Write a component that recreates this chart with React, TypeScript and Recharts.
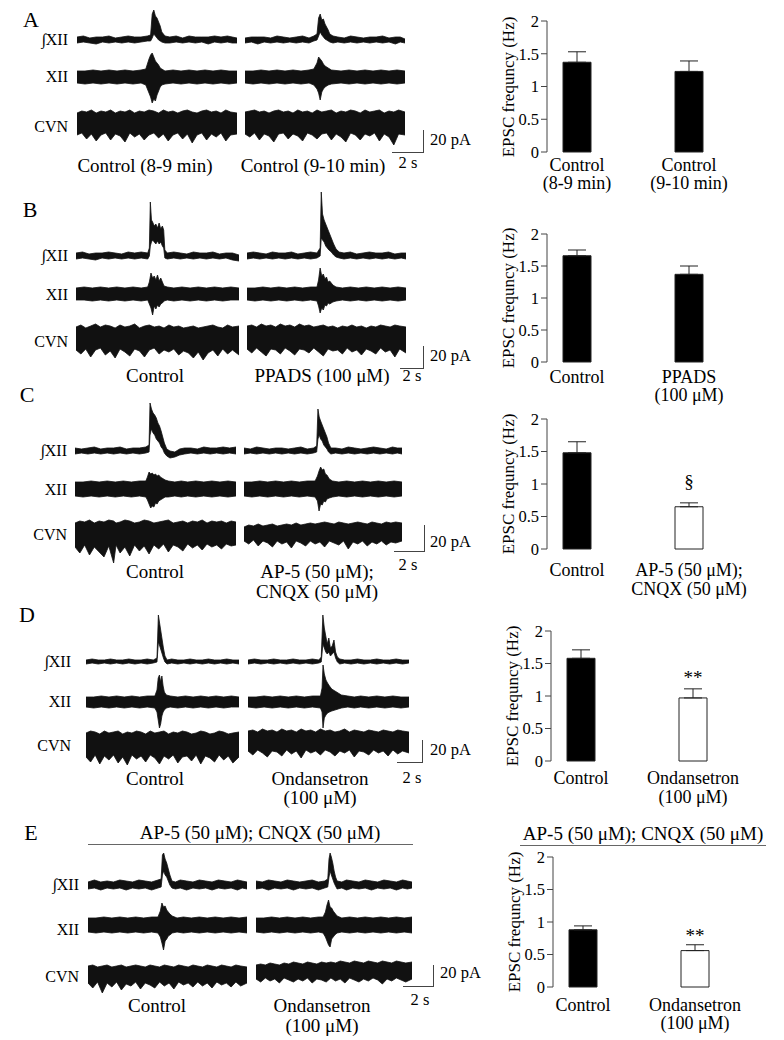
import React from 'react'
import { ComposedChart, Area, BarChart, Bar, Cell, XAxis, YAxis, ErrorBar, LabelList } from 'recharts'

const FONT = '"Liberation Serif", "Times New Roman", Times, serif'

// ---- bar data (EPSC frequency, Hz) ----
const Y_TICKS = [0, 0.5, 1, 1.5, 2]
const A_LABELS = [['Control', '(8-9 min)'], ['Control', '(9-10 min)']]
const A_MEAN = [1.37, 1.23]
const A_SEM = [0.16, 0.16]
const B_LABELS = [['Control'], ['PPADS', '(100 μM)']]
const B_MEAN = [1.66, 1.37]
const B_SEM = [0.09, 0.13]
const C_LABELS = [['Control'], ['AP-5 (50 μM);', 'CNQX (50 μM)']]
const C_MEAN = [1.48, 0.65]
const C_SEM = [0.17, 0.06]
const C_MARKS = ['', '§']
const D_LABELS = [['Control'], ['Ondansetron', '(100 μM)']]
const D_MEAN = [1.58, 0.97]
const D_SEM = [0.13, 0.14]
const D_MARKS = ['', '**']
const E_LABELS = [['Control'], ['Ondansetron', '(100 μM)']]
const E_MEAN = [0.88, 0.56]
const E_SEM = [0.06, 0.09]
const E_MARKS = ['', '**']
const FILLS_CTRL = ['#000', '#000']
const FILLS_DRUG = ['#000', '#fff']

// ---- trace envelopes: [time 0-100, low, high], amplitude in px ----
const A_INT_1 = [[0,-3,3],[4,-2,4],[8,-3,2],[12,-4,3],[16,-2,3],[20,-3,4],[24,-2,2],[28,-3,3],[32,-2,4],[36,-3,3],[40,-2,3],[44,-1,4],[46,-1,5],[47,2,26],[48,6,30],[49,4,24],[50,2,22],[51,0,18],[52,-1,14],[53,-2,8],[55,-3,4],[58,-3,3],[62,-2,4],[66,-3,2],[70,-2,4],[74,-3,3],[78,-2,3],[82,-4,3],[86,-2,4],[90,-3,3],[94,-2,4],[97,-3,3],[100,-3,2]]
const A_INT_2 = [[0,-3,2],[4,-2,3],[8,-4,3],[12,-2,3],[16,-3,2],[20,-2,4],[24,-3,3],[28,-2,2],[32,-3,3],[36,-2,4],[40,-3,2],[43,-1,4],[45,0,6],[46,4,22],[47,8,26],[48,5,20],[49,3,21],[50,1,16],[51,0,13],[52,-1,10],[53,-2,6],[55,-3,4],[58,-2,3],[62,-3,2],[66,-2,4],[70,-3,3],[74,-2,2],[78,-3,3],[82,-2,3],[86,-3,4],[90,-2,2],[94,-4,3],[97,-2,3],[100,-3,1]]
const A_XII_1 = [[0,-6,6],[5,-7,6],[10,-6,7],[15,-7,6],[20,-6,7],[25,-7,6],[30,-6,7],[35,-7,6],[40,-6,7],[43,-8,8],[44,-12,13],[45,-16,18],[46,-20,22],[47,-26,24],[48,-22,20],[49,-24,16],[50,-18,14],[51,-14,12],[52,-10,9],[53,-8,8],[55,-7,6],[60,-6,7],[65,-7,6],[70,-6,7],[75,-7,6],[80,-6,7],[85,-7,6],[90,-6,7],[95,-7,6],[100,-6,6]]
const A_XII_2 = [[0,-6,6],[5,-7,6],[10,-6,7],[15,-7,6],[20,-6,7],[25,-7,6],[30,-6,7],[35,-7,6],[40,-6,7],[43,-8,8],[45,-12,14],[46,-16,20],[47,-23,18],[48,-15,16],[49,-12,13],[50,-10,11],[52,-8,9],[54,-7,7],[60,-6,6],[65,-7,7],[70,-6,6],[75,-7,7],[80,-6,6],[85,-7,7],[90,-6,6],[95,-7,7],[100,-6,6]]
const A_CVN_1 = [[0,-12,10],[3,-10,12],[6,-16,11],[9,-11,13],[12,-18,10],[15,-12,12],[18,-10,11],[21,-17,13],[24,-11,10],[27,-13,12],[30,-19,11],[33,-10,13],[36,-14,10],[39,-11,12],[42,-17,11],[45,-12,13],[48,-10,12],[51,-15,10],[54,-11,13],[57,-18,11],[60,-12,12],[63,-10,10],[66,-16,12],[69,-11,13],[72,-20,11],[75,-12,10],[78,-10,12],[81,-17,13],[84,-11,11],[87,-14,12],[90,-10,10],[93,-18,13],[96,-12,11],[100,-11,10]]
const A_CVN_2 = [[0,-11,11],[3,-14,12],[6,-10,13],[9,-17,11],[12,-11,12],[15,-13,10],[18,-19,12],[21,-11,13],[24,-10,11],[27,-16,12],[30,-11,10],[33,-13,13],[36,-18,11],[39,-10,12],[42,-12,10],[45,-16,13],[48,-11,11],[51,-10,12],[54,-17,13],[57,-11,10],[60,-14,12],[63,-19,11],[66,-10,13],[69,-12,12],[72,-17,10],[75,-11,13],[78,-13,11],[81,-10,12],[84,-18,13],[87,-11,10],[90,-14,12],[93,-22,11],[96,-11,13],[100,-12,11]]

const B_INT_1 = [[0,-3,3],[4,-2,4],[8,-3,2],[12,-4,3],[16,-2,3],[20,-3,4],[24,-2,3],[28,-3,2],[32,-2,4],[36,-3,3],[40,-2,4],[44,-3,3],[45,0,8],[45.6,10,54],[46.3,14,36],[47,16,34],[48,14,30],[49,12,32],[50,15,28],[51,12,33],[52,14,27],[53,10,30],[53.8,8,26],[54.5,-2,6],[56,-3,3],[60,-2,4],[64,-3,3],[68,-2,2],[72,-3,4],[76,-2,3],[80,-3,3],[84,-2,4],[88,-3,2],[92,-2,3],[96,-4,3],[100,-5,1]]
const B_INT_2 = [[0,-3,3],[4,-2,4],[8,-3,3],[12,-2,2],[16,-3,4],[20,-2,3],[24,-3,3],[28,-2,4],[32,-3,2],[36,-2,3],[40,-3,4],[44,-2,3],[46,0,8],[46.7,18,64],[47.5,16,42],[48.5,14,36],[49.5,10,32],[50.5,8,28],[51.5,6,24],[53,4,18],[54.5,1,12],[56,-1,7],[58,-2,4],[61,-3,3],[65,-2,4],[69,-3,2],[73,-2,3],[77,-3,4],[81,-2,3],[85,-3,3],[89,-2,4],[93,-3,2],[97,-2,3],[100,-3,3]]
const B_XII_1 = [[0,-6,6],[5,-6,7],[10,-7,6],[15,-6,7],[20,-7,6],[25,-6,7],[30,-7,6],[35,-6,7],[40,-7,6],[44,-6,7],[45,-10,12],[46,-14,21],[47,-21,16],[48,-12,18],[49,-15,14],[50,-11,19],[51,-13,13],[52,-10,16],[53,-9,12],[54,-7,8],[56,-6,7],[60,-7,6],[65,-6,7],[70,-7,6],[75,-6,7],[80,-7,6],[85,-6,7],[90,-7,6],[95,-6,7],[100,-6,6]]
const B_XII_2 = [[0,-6,6],[5,-7,6],[10,-6,7],[15,-7,6],[20,-6,7],[25,-7,6],[30,-6,7],[35,-7,6],[40,-6,7],[44,-7,7],[45,-12,14],[46,-19,26],[47,-14,18],[48,-16,20],[49,-11,15],[50,-12,17],[51,-9,12],[52,-10,13],[54,-8,9],[56,-7,7],[60,-6,6],[65,-7,7],[70,-6,6],[75,-7,7],[80,-6,6],[85,-7,7],[90,-6,6],[95,-7,7],[100,-6,6]]
const B_CVN_1 = [[0,-12,11],[3,-16,13],[6,-11,10],[9,-19,12],[12,-12,14],[15,-10,11],[18,-17,13],[21,-13,12],[24,-20,10],[27,-11,13],[30,-14,11],[33,-18,12],[36,-11,14],[39,-13,10],[42,-19,12],[45,-12,13],[48,-10,11],[51,-16,12],[54,-12,10],[57,-14,13],[60,-11,11],[63,-17,12],[66,-13,10],[69,-15,11],[72,-20,12],[75,-14,10],[78,-22,11],[81,-15,12],[84,-12,13],[87,-18,11],[90,-11,10],[93,-16,13],[96,-12,11],[100,-17,12]]
const B_CVN_2 = [[0,-11,12],[3,-15,13],[6,-10,11],[9,-14,14],[12,-18,12],[15,-11,13],[18,-12,11],[21,-16,14],[24,-10,12],[27,-13,13],[30,-17,11],[33,-11,14],[36,-12,12],[39,-15,13],[42,-10,11],[45,-14,12],[48,-18,13],[51,-11,11],[54,-13,12],[57,-12,10],[60,-16,12],[63,-10,11],[66,-14,13],[69,-12,11],[72,-17,12],[75,-11,10],[78,-13,12],[81,-16,11],[84,-10,13],[87,-14,12],[90,-12,11],[93,-19,13],[96,-11,12],[100,-15,11]]

const C_INT_1 = [[0,-3,3],[4,-2,2],[8,-3,3],[12,-2,4],[16,-3,2],[20,-2,3],[24,-3,3],[28,-2,4],[32,-3,2],[36,-2,3],[40,-3,3],[44,-2,4],[46,-1,6],[46.6,16,48],[47.5,22,42],[48.5,18,38],[49.5,16,36],[50.5,12,33],[51.5,10,28],[52.5,8,25],[53.5,4,20],[54.5,2,14],[55.5,-2,8],[57,-5,2],[59,-7,0],[62,-6,-1],[65,-4,2],[68,-3,3],[72,-2,3],[76,-3,2],[80,-2,4],[84,-3,3],[88,-2,3],[92,-3,4],[96,-2,3],[100,-3,4]]
const C_INT_2 = [[0,-3,3],[4,-2,2],[8,-3,4],[12,-2,3],[16,-3,2],[20,-2,3],[24,-3,3],[28,-2,2],[32,-3,3],[36,-2,4],[40,-3,2],[44,-2,3],[46,-1,5],[46.8,12,42],[47.6,16,34],[48.5,12,30],[49.5,10,26],[50.5,6,22],[51.5,4,18],[52.5,2,14],[53.5,-1,8],[55,-3,3],[58,-2,3],[62,-3,2],[66,-2,4],[70,-3,3],[74,-2,2],[78,-3,3],[82,-2,4],[86,-3,3],[90,-2,2],[94,-3,4],[97,-2,3],[100,-3,3]]
const C_XII_1 = [[0,-7,7],[5,-8,7],[10,-7,8],[15,-8,7],[20,-7,8],[25,-8,7],[30,-7,8],[35,-8,7],[40,-7,8],[44,-8,8],[45,-11,12],[46,-15,17],[47,-19,15],[48,-17,16],[49,-18,14],[50,-14,15],[51,-15,13],[52,-12,14],[53,-11,12],[54,-10,11],[56,-8,9],[58,-8,8],[62,-7,7],[66,-8,8],[70,-7,7],[75,-8,8],[80,-7,7],[85,-8,8],[90,-7,7],[95,-8,8],[100,-7,7]]
const C_XII_2 = [[0,-7,7],[5,-8,7],[10,-7,8],[15,-8,7],[20,-7,8],[25,-8,7],[30,-7,8],[35,-8,7],[40,-7,8],[45,-8,8],[46.5,-12,13],[47.5,-22,18],[48.5,-15,22],[49.5,-16,19],[50.5,-12,20],[51.5,-13,15],[52.5,-10,14],[54,-9,10],[56,-8,8],[60,-7,7],[65,-8,8],[70,-7,7],[75,-8,8],[80,-7,7],[85,-8,8],[90,-7,7],[95,-8,8],[100,-7,7]]
const C_CVN_1 = [[0,-14,10],[3,-20,12],[6,-12,11],[9,-22,13],[12,-14,10],[15,-19,12],[18,-24,11],[21,-13,13],[24,-30,12],[25.5,-12,10],[28,-20,11],[31,-14,13],[34,-23,12],[37,-12,10],[40,-18,11],[43,-13,13],[46,-21,12],[49,-12,10],[52,-16,11],[55,-11,12],[58,-19,13],[61,-12,10],[64,-14,11],[67,-18,12],[70,-11,10],[73,-15,12],[76,-12,11],[79,-17,13],[82,-11,10],[85,-14,12],[88,-12,11],[91,-16,12],[94,-11,10],[97,-13,12],[100,-12,11]]
const C_CVN_2 = [[0,-8,6],[3,-11,8],[6,-7,7],[9,-13,9],[12,-8,7],[15,-10,8],[18,-14,9],[21,-8,7],[24,-11,8],[27,-9,9],[30,-15,8],[33,-8,10],[36,-10,8],[39,-13,9],[42,-8,10],[45,-11,9],[48,-9,10],[51,-14,11],[54,-8,10],[57,-10,9],[60,-12,11],[63,-8,10],[66,-16,9],[69,-9,10],[72,-11,11],[75,-8,10],[78,-13,9],[81,-9,11],[84,-11,10],[87,-8,9],[90,-12,11],[93,-9,10],[96,-10,11],[100,-8,10]]

const D_INT_1 = [[0,-2,2],[4,-1,3],[8,-2,2],[12,-1,2],[16,-2,3],[20,-1,2],[24,-2,2],[28,-1,3],[32,-2,2],[36,-1,2],[40,-2,3],[44,-1,2],[46.4,0,4],[47.3,20,47],[48.2,16,38],[49,12,30],[49.8,8,22],[50.6,4,14],[51.6,0,6],[53,-2,2],[56,-1,3],[60,-2,2],[64,-1,2],[68,-2,3],[72,-1,2],[76,-2,2],[80,-1,3],[84,-2,2],[88,-1,2],[92,-2,3],[96,-1,2],[100,-2,2]]
const D_INT_2 = [[0,-2,2],[4,-1,3],[8,-2,2],[12,-1,2],[16,-2,3],[20,-1,2],[24,-2,2],[28,-1,3],[32,-2,2],[36,-1,2],[40,-2,3],[44,-1,2],[45.5,0,5],[46.5,18,47],[47.4,14,34],[48.3,10,26],[49.2,8,18],[50.2,10,24],[51.2,6,14],[52.3,8,16],[53.4,10,22],[54.4,4,10],[55.5,0,5],[57,-2,3],[60,-1,2],[64,-2,2],[68,-1,3],[72,-2,2],[76,-1,2],[80,-2,3],[84,-1,2],[88,-2,2],[92,-1,3],[96,-2,2],[100,-1,2]]
const D_XII_1 = [[0,-5,5],[5,-6,5],[10,-5,6],[15,-6,5],[20,-5,6],[25,-6,5],[30,-5,6],[35,-6,5],[40,-5,6],[45,-6,6],[46.4,-10,12],[47.2,-18,24],[48,-26,27],[48.8,-22,20],[49.6,-14,26],[50.4,-10,16],[51.2,-8,10],[52.5,-6,7],[55,-5,6],[60,-6,5],[65,-5,6],[70,-6,5],[75,-5,6],[80,-6,5],[85,-5,6],[90,-6,5],[95,-5,6],[100,-5,5]]
const D_XII_2 = [[0,-5,5],[5,-6,5],[10,-5,6],[15,-6,5],[20,-5,6],[25,-6,5],[30,-5,6],[35,-6,5],[40,-5,6],[45,-6,6],[46,-10,14],[46.6,-26,37],[47.4,-16,28],[48.4,-13,22],[49.4,-11,19],[50.6,-10,16],[52,-9,13],[54,-8,11],[56,-7,9],[58,-6,7],[62,-5,6],[66,-6,5],[70,-5,6],[75,-6,5],[80,-5,6],[85,-6,5],[90,-5,6],[95,-6,5],[100,-5,5]]
const D_CVN_1 = [[0,-13,11],[3,-18,13],[6,-11,12],[9,-20,10],[12,-12,13],[15,-16,11],[18,-11,12],[21,-19,13],[24,-13,10],[27,-21,12],[30,-11,11],[33,-15,13],[36,-12,12],[39,-18,10],[42,-11,13],[45,-14,11],[48,-20,12],[51,-12,13],[54,-15,10],[57,-11,12],[60,-19,11],[63,-13,13],[66,-12,12],[69,-17,10],[72,-11,11],[75,-20,13],[78,-12,12],[81,-14,10],[84,-18,11],[87,-11,13],[90,-16,12],[93,-12,10],[96,-19,11],[100,-13,12]]
const D_CVN_2 = [[0,-7,13],[3,-11,14],[6,-6,12],[9,-9,15],[12,-13,13],[15,-7,14],[18,-8,12],[21,-12,15],[24,-6,13],[27,-10,14],[30,-7,12],[33,-14,15],[36,-6,13],[39,-9,14],[42,-7,12],[45,-11,15],[48,-6,13],[51,-8,14],[54,-12,12],[57,-7,13],[60,-9,15],[63,-6,12],[66,-13,14],[69,-7,13],[72,-8,12],[75,-11,14],[78,-6,13],[81,-9,12],[84,-7,14],[87,-12,13],[90,-6,12],[93,-10,14],[96,-7,13],[100,-9,12]]

const E_INT_1 = [[0,-4,3],[4,-3,5],[8,-5,3],[12,-3,4],[16,-4,3],[20,-3,5],[24,-5,4],[28,-3,3],[32,-4,5],[36,-3,4],[40,-5,3],[44,-3,5],[46,-2,6],[46.8,10,30],[47.6,14,32],[48.5,10,26],[49.5,8,22],[50.5,4,16],[51.5,0,10],[52.8,-3,4],[55,-4,3],[58,-3,5],[62,-5,4],[66,-3,3],[70,-4,5],[74,-3,4],[78,-5,3],[82,-3,5],[86,-4,4],[90,-3,3],[94,-5,5],[97,-3,4],[100,-4,3]]
const E_INT_2 = [[0,-4,4],[4,-3,3],[8,-5,5],[12,-3,4],[16,-4,3],[20,-3,5],[24,-5,4],[28,-3,3],[32,-4,4],[36,-3,5],[40,-5,3],[44,-3,4],[46,-2,6],[46.8,8,26],[47.5,14,32],[48.3,10,28],[49.2,6,22],[50.1,2,14],[51,-1,8],[52,-4,4],[55,-3,3],[58,-5,5],[62,-3,4],[66,-4,3],[70,-3,5],[74,-5,4],[78,-3,3],[82,-4,5],[86,-3,4],[90,-5,3],[94,-3,5],[97,-4,4],[100,-3,3]]
const E_XII_1 = [[0,-7,7],[5,-8,7],[10,-7,8],[15,-8,7],[20,-7,8],[25,-8,7],[30,-7,8],[35,-8,7],[40,-7,8],[44,-8,8],[45.5,-12,14],[46.5,-18,22],[47.5,-25,18],[48.5,-16,19],[49.5,-14,15],[50.5,-11,13],[51.5,-10,11],[53,-8,9],[56,-7,7],[60,-8,8],[65,-7,7],[70,-8,8],[75,-7,7],[80,-8,8],[85,-7,7],[90,-8,8],[95,-7,7],[100,-8,8]]
const E_XII_2 = [[0,-7,7],[5,-8,7],[10,-7,8],[15,-8,7],[20,-7,8],[25,-8,7],[30,-7,8],[35,-8,7],[40,-7,8],[43,-8,8],[44.5,-12,13],[45.5,-16,20],[46.5,-20,25],[47.5,-22,18],[48.5,-14,17],[49.5,-12,14],[50.5,-10,12],[52,-8,9],[55,-7,7],[60,-8,8],[65,-7,7],[70,-8,8],[75,-7,7],[80,-8,8],[85,-7,7],[90,-8,8],[95,-7,7],[100,-8,8]]
const E_CVN_1 = [[0,-9,8],[3,-14,9],[6,-8,7],[9,-19,8],[12,-9,9],[15,-13,7],[18,-8,8],[21,-16,9],[24,-10,7],[27,-12,8],[30,-8,9],[33,-15,8],[36,-9,7],[39,-11,9],[42,-14,8],[45,-8,7],[48,-12,9],[51,-9,8],[54,-15,7],[57,-8,9],[60,-11,8],[63,-9,7],[66,-13,9],[69,-8,8],[72,-12,7],[75,-9,9],[78,-14,8],[81,-8,7],[84,-11,9],[87,-9,8],[90,-13,7],[93,-8,9],[96,-12,8],[100,-9,7]]
const E_CVN_2 = [[0,-5,9],[3,-8,10],[6,-4,9],[9,-7,11],[12,-5,10],[15,-9,9],[18,-4,11],[21,-6,10],[24,-8,12],[27,-5,11],[30,-7,10],[33,-4,12],[36,-9,11],[39,-5,10],[42,-6,12],[45,-8,11],[48,-4,12],[51,-7,11],[54,-5,13],[57,-9,12],[60,-4,11],[63,-6,13],[66,-8,12],[69,-5,11],[72,-7,13],[75,-4,12],[78,-6,11],[81,-10,13],[84,-5,12],[87,-7,11],[90,-4,13],[93,-6,12],[96,-8,11],[100,-5,12]]

// ---- layout ----
const DOMAINS = { int: [-10, 70], xii: [-40, 40], cvn: [-35, 20] }
const CH_NAMES = ['∫XII', 'XII', 'CVN']
const KINDS = ['int', 'xii', 'cvn']

const PANELS = [
  {
    letter: 'A', lp: [31, 20], base: [40, 77, 123], chLab: { x: 68, ys: [40, 77, 127] },
    tr: [[77, 237], [245, 405]],
    traces: [[A_INT_1, A_XII_1, A_CVN_1], [A_INT_2, A_XII_2, A_CVN_2]],
    cond: [['Control (8-9 min)'], ['Control (9-10 min)']], condX: [145, 313], condY: 165, condGap: 19,
    sb: { vx: 423, vt: 130, vb: 152, hx: 392, pa: [430, 140], s: [408, 163] },
    bars: { y2: 21, y0: 152, ax: 547, off: 12.5, gap: 18.5, labels: A_LABELS, mean: A_MEAN, sem: A_SEM, fills: FILLS_CTRL, marks: ['', ''], markGap: 0 },
  },
  {
    letter: 'B', lp: [30, 210], base: [256, 294, 338], chLab: { x: 68, ys: [256, 295, 342] },
    tr: [[76, 239], [247, 406]],
    traces: [[B_INT_1, B_XII_1, B_CVN_1], [B_INT_2, B_XII_2, B_CVN_2]],
    cond: [['Control'], ['PPADS (100 μM)']], condX: [155, 322], condY: 375, condGap: 19,
    sb: { vx: 423, vt: 346, vb: 368, hx: 400, pa: [430, 356], s: [412, 376] },
    bars: { y2: 234, y0: 362, ax: 547, off: 14.5, gap: 18.5, labels: B_LABELS, mean: B_MEAN, sem: B_SEM, fills: FILLS_CTRL, marks: ['', ''], markGap: 0 },
  },
  {
    letter: 'C', lp: [27, 395], base: [451, 489, 533], chLab: { x: 67, ys: [451, 490, 535] },
    tr: [[75, 236], [244, 402]],
    traces: [[C_INT_1, C_XII_1, C_CVN_1], [C_INT_2, C_XII_2, C_CVN_2]],
    cond: [['Control'], ['AP-5 (50 μM);', 'CNQX (50 μM)']], condX: [155, 317], condY: 571, condGap: 20,
    sb: { vx: 424, vt: 525, vb: 551, hx: 394, pa: [430, 542], s: [408, 565] },
    bars: { y2: 419, y0: 549, ax: 547, off: 21, gap: 18.5, labels: C_LABELS, mean: C_MEAN, sem: C_SEM, fills: FILLS_DRUG, marks: C_MARKS, markGap: 25 },
  },
  {
    letter: 'D', lp: [27, 615], base: [662, 702, 744], chLab: { x: 71, ys: [662, 702, 746] },
    tr: [[86, 239], [248, 409]],
    traces: [[D_INT_1, D_XII_1, D_CVN_1], [D_INT_2, D_XII_2, D_CVN_2]],
    cond: [['Control'], ['Ondansetron', '(100 μM)']], condX: [155, 320], condY: 778, condGap: 19,
    sb: { vx: 422, vt: 740, vb: 762, hx: 397, pa: [430, 750], s: [412, 778] },
    bars: { y2: 631, y0: 761, ax: 551, off: 17, gap: 19, labels: D_LABELS, mean: D_MEAN, sem: D_SEM, fills: FILLS_DRUG, marks: D_MARKS, markGap: 25 },
  },
  {
    letter: 'E', lp: [31, 833], base: [885, 925, 974], chLab: { x: 79, ys: [885, 930, 977] },
    tr: [[88, 247], [256, 412]],
    traces: [[E_INT_1, E_XII_1, E_CVN_1], [E_INT_2, E_XII_2, E_CVN_2]],
    cond: [['Control'], ['Ondansetron', '(100 μM)']], condX: [157, 322], condY: 1005, condGap: 20,
    sb: { vx: 433, vt: 965, vb: 986, hx: 403, pa: [440, 973], s: [420, 1000] },
    bars: { y2: 857, y0: 987, ax: 553, off: 18, gap: 18, labels: E_LABELS, mean: E_MEAN, sem: E_SEM, fills: FILLS_DRUG, marks: E_MARKS, markGap: 20 },
  },
]

const Txt = ({ x, y, s = 19, a = 'middle', children }: any) => (
  <div
    style={{
      position: 'absolute', left: x, top: y, fontSize: s, lineHeight: 1, whiteSpace: 'nowrap', color: '#000',
      transform: `translate(${a === 'middle' ? '-50%' : a === 'end' ? '-100%' : '0'}, -50%)`,
    }}
  >
    {children}
  </div>
)

function Trace({ x0, x1, base, kind, data }: any) {
  const dom = DOMAINS[kind as keyof typeof DOMAINS]
  const rows = data.map((d: number[]) => ({ t: d[0], r: [d[1], d[2]] }))
  return (
    <div style={{ position: 'absolute', left: x0, top: base - dom[1] }}>
      <ComposedChart width={x1 - x0} height={dom[1] - dom[0]} data={rows} margin={{ top: 0, right: 0, bottom: 0, left: 0 }}>
        <XAxis type="number" dataKey="t" domain={[0, 100]} hide />
        <YAxis domain={dom} hide allowDataOverflow />
        <Area dataKey="r" type="linear" stroke="#111" strokeWidth={0.8} fill="#111" fillOpacity={1} dot={false} activeDot={false} isAnimationActive={false} />
      </ComposedChart>
    </div>
  )
}

function ScaleBar({ sb }: any) {
  return (
    <>
      <div style={{ position: 'absolute', left: sb.vx, top: sb.vt, width: 1, height: sb.vb - sb.vt, background: '#444' }} />
      <div style={{ position: 'absolute', left: sb.hx, top: sb.vb, width: sb.vx - sb.hx + 1, height: 1, background: '#444' }} />
      <Txt x={sb.pa[0]} y={sb.pa[1]} s={16.5} a="start">20 pA</Txt>
      <Txt x={sb.s[0]} y={sb.s[1]} s={16.5}>2 s</Txt>
    </>
  )
}

const BAR_LEFT = 480
const BAR_W = 300
const TOP_PAD = 16
const X_AX_H = 56
const OFF_FIRST = 30
const STEP = 112

function BarPanel({ b }: any) {
  const plotH = b.y0 - b.y2
  const yw = b.ax - BAR_LEFT
  const plotW = BAR_W - yw
  const d0 = -OFF_FIRST / STEP
  const d1 = d0 + plotW / STEP
  const data = b.mean.map((v: number, i: number) => ({ i, v, e: [0, b.sem[i]], mark: b.marks[i] }))
  const y0c = TOP_PAD + plotH
  const tick = (p: any) => {
    const lines: string[] = b.labels[p.payload.value] || []
    return (
      <text x={p.x} y={0} textAnchor="middle" fontFamily={FONT} fontSize={18} fill="#000">
        {lines.map((l, k) => (
          <tspan key={k} x={p.x} y={y0c + b.off + k * b.gap + 6}>{l}</tspan>
        ))}
      </text>
    )
  }
  const mark = (p: any) => {
    if (!p.value) return null
    return (
      <text x={p.x + p.width / 2} y={p.y - b.markGap + (p.value === '§' ? 6 : 11)} textAnchor="middle" fontFamily={FONT} fontSize={19} fill="#000">
        {p.value}
      </text>
    )
  }
  return (
    <>
      <div style={{ position: 'absolute', left: BAR_LEFT, top: b.y2 - TOP_PAD }}>
        <BarChart width={BAR_W} height={TOP_PAD + plotH + X_AX_H} data={data} margin={{ top: TOP_PAD, right: 0, bottom: 0, left: 0 }}>
          <XAxis type="number" dataKey="i" domain={[d0, d1]} ticks={[0, 1]} axisLine={false} tickLine={false} height={X_AX_H} tick={tick} interval={0} allowDataOverflow />
          <YAxis
            domain={[0, 2]} ticks={Y_TICKS} width={yw} interval={0}
            axisLine={{ stroke: '#444' }} tickLine={{ stroke: '#444' }} tickSize={6} tickMargin={2}
            tick={{ fill: '#000', fontSize: 16.5, fontFamily: FONT }}
          />
          <Bar dataKey="v" barSize={28} isAnimationActive={false}>
            {data.map((_: any, i: number) => (
              <Cell key={i} fill={b.fills[i]} stroke="#222" strokeWidth={1} />
            ))}
            <ErrorBar dataKey="e" width={9} stroke="#222" strokeWidth={1} direction="y" />
            <LabelList dataKey="mark" content={mark} />
          </Bar>
        </BarChart>
      </div>
      <div
        style={{
          position: 'absolute', left: b.ax - 39, top: (b.y2 + b.y0) / 2, fontSize: 17, lineHeight: 1, whiteSpace: 'nowrap',
          transform: 'translate(-50%, -50%) rotate(-90deg)',
        }}
      >
        EPSC frequncy (Hz)
      </div>
    </>
  )
}

export default function App() {
  return (
    <div style={{ position: 'absolute', left: 0, top: 0, width: 784, height: 1040, background: '#fff', fontFamily: FONT, overflow: 'hidden' }}>
      {PANELS.map((p) => (
        <React.Fragment key={p.letter}>
          <Txt x={p.lp[0]} y={p.lp[1]} s={22}>{p.letter}</Txt>
          {CH_NAMES.map((n, k) => (
            <Txt key={n} x={p.chLab.x} y={p.chLab.ys[k]} s={16} a="end">{n}</Txt>
          ))}
          {p.traces.map((set, ti) =>
            set.map((d, k) => (
              <Trace key={`${ti}-${k}`} x0={p.tr[ti][0]} x1={p.tr[ti][1]} base={p.base[k]} kind={KINDS[k]} data={d} />
            ))
          )}
          {p.cond.map((lines, ti) =>
            lines.map((l, k) => (
              <Txt key={`${ti}-${k}`} x={p.condX[ti]} y={p.condY + k * p.condGap}>{l}</Txt>
            ))
          )}
          <ScaleBar sb={p.sb} />
          <BarPanel b={p.bars} />
        </React.Fragment>
      ))}
      <Txt x={260} y={832}>AP-5 (50 μM); CNQX (50 μM)</Txt>
      <div style={{ position: 'absolute', left: 88, top: 844, width: 325, height: 1, background: '#666' }} />
      <Txt x={643} y={833}>AP-5 (50 μM); CNQX (50 μM)</Txt>
      <div style={{ position: 'absolute', left: 520, top: 845, width: 246, height: 1, background: '#666' }} />
    </div>
  )
}
